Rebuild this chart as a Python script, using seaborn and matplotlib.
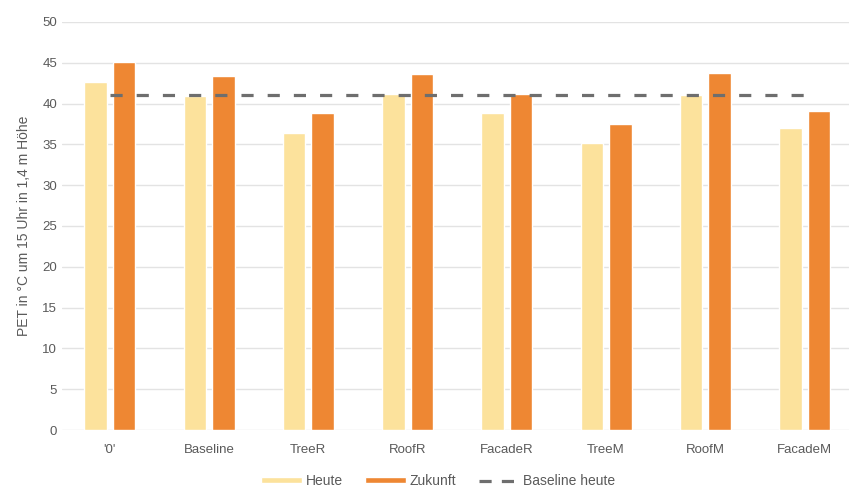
import matplotlib
matplotlib.use("Agg")
import matplotlib.pyplot as plt
import seaborn as sns
import pandas as pd
from matplotlib.lines import Line2D
from matplotlib.patches import Patch

categories = ["'0'", "Baseline", "TreeR", "RoofR", "FacadeR", "TreeM", "RoofM", "FacadeM"]
heute = [42.6, 40.9, 36.4, 41.2, 38.8, 35.2, 41.0, 37.0]
zukunft = [45.1, 43.4, 38.8, 43.6, 41.2, 37.5, 43.7, 39.1]
baseline_heute = 41.0
series_names = ["Heute", "Zukunft"]
colors = ["#FCE29C", "#EE8733"]

df = pd.DataFrame({
    "cat": categories * 2,
    "val": heute + zukunft,
    "series": [series_names[0]] * len(categories) + [series_names[1]] * len(categories),
})
line_df = pd.DataFrame({"x": list(range(len(categories))), "y": [baseline_heute] * len(categories)})

sns.set_theme(style="white")
plt.rcParams["font.family"] = ["Liberation Sans", "DejaVu Sans"]

fig = plt.figure(figsize=(8.51, 4.87), dpi=100)
ax = fig.add_axes([0.073, 0.117, 0.925, 0.838])

dash = (0, (3.8, 4.4))
sns.barplot(data=df, x="cat", y="val", hue="series", palette=colors, width=0.574, gap=0.21,
            ax=ax, legend=False, saturation=1, order=categories)
sns.lineplot(data=line_df, x="x", y="y", ax=ax, color="#6E6E6E", linewidth=2.3,
             linestyle=dash, legend=False, zorder=5)

ax.set_ylim(0, 50)
ax.set_xlim(-0.48, 7.45)
ax.set_yticks(range(0, 51, 5))
ax.yaxis.grid(True, color="#E3E3E3", linewidth=1)
ax.set_axisbelow(True)
for s in ax.spines.values():
    s.set_visible(False)
ax.tick_params(axis="both", length=0, labelsize=9.5, labelcolor="#5A5A5A")
ax.tick_params(axis="x", pad=10)
ax.set_xlabel("")
ax.set_ylabel("PET in °C um 15 Uhr in 1,4 m Höhe", fontsize=10, color="#5A5A5A", labelpad=8)

handles = [Patch(facecolor=colors[0], label="Heute"),
           Patch(facecolor=colors[1], label="Zukunft"),
           Line2D([0], [0], color="#6E6E6E", lw=2.3, linestyle=(0, (3.8, 3.2)), label="Baseline heute")]
fig.legend(handles=handles, loc="lower center", bbox_to_anchor=(0.515, -0.028), ncol=3, frameon=False,
           fontsize=10, labelcolor="#5A5A5A", handlelength=2.9, handleheight=0.3, columnspacing=1.6,
           handletextpad=0.3)

fig.savefig("out.png", dpi=100, facecolor="white")
